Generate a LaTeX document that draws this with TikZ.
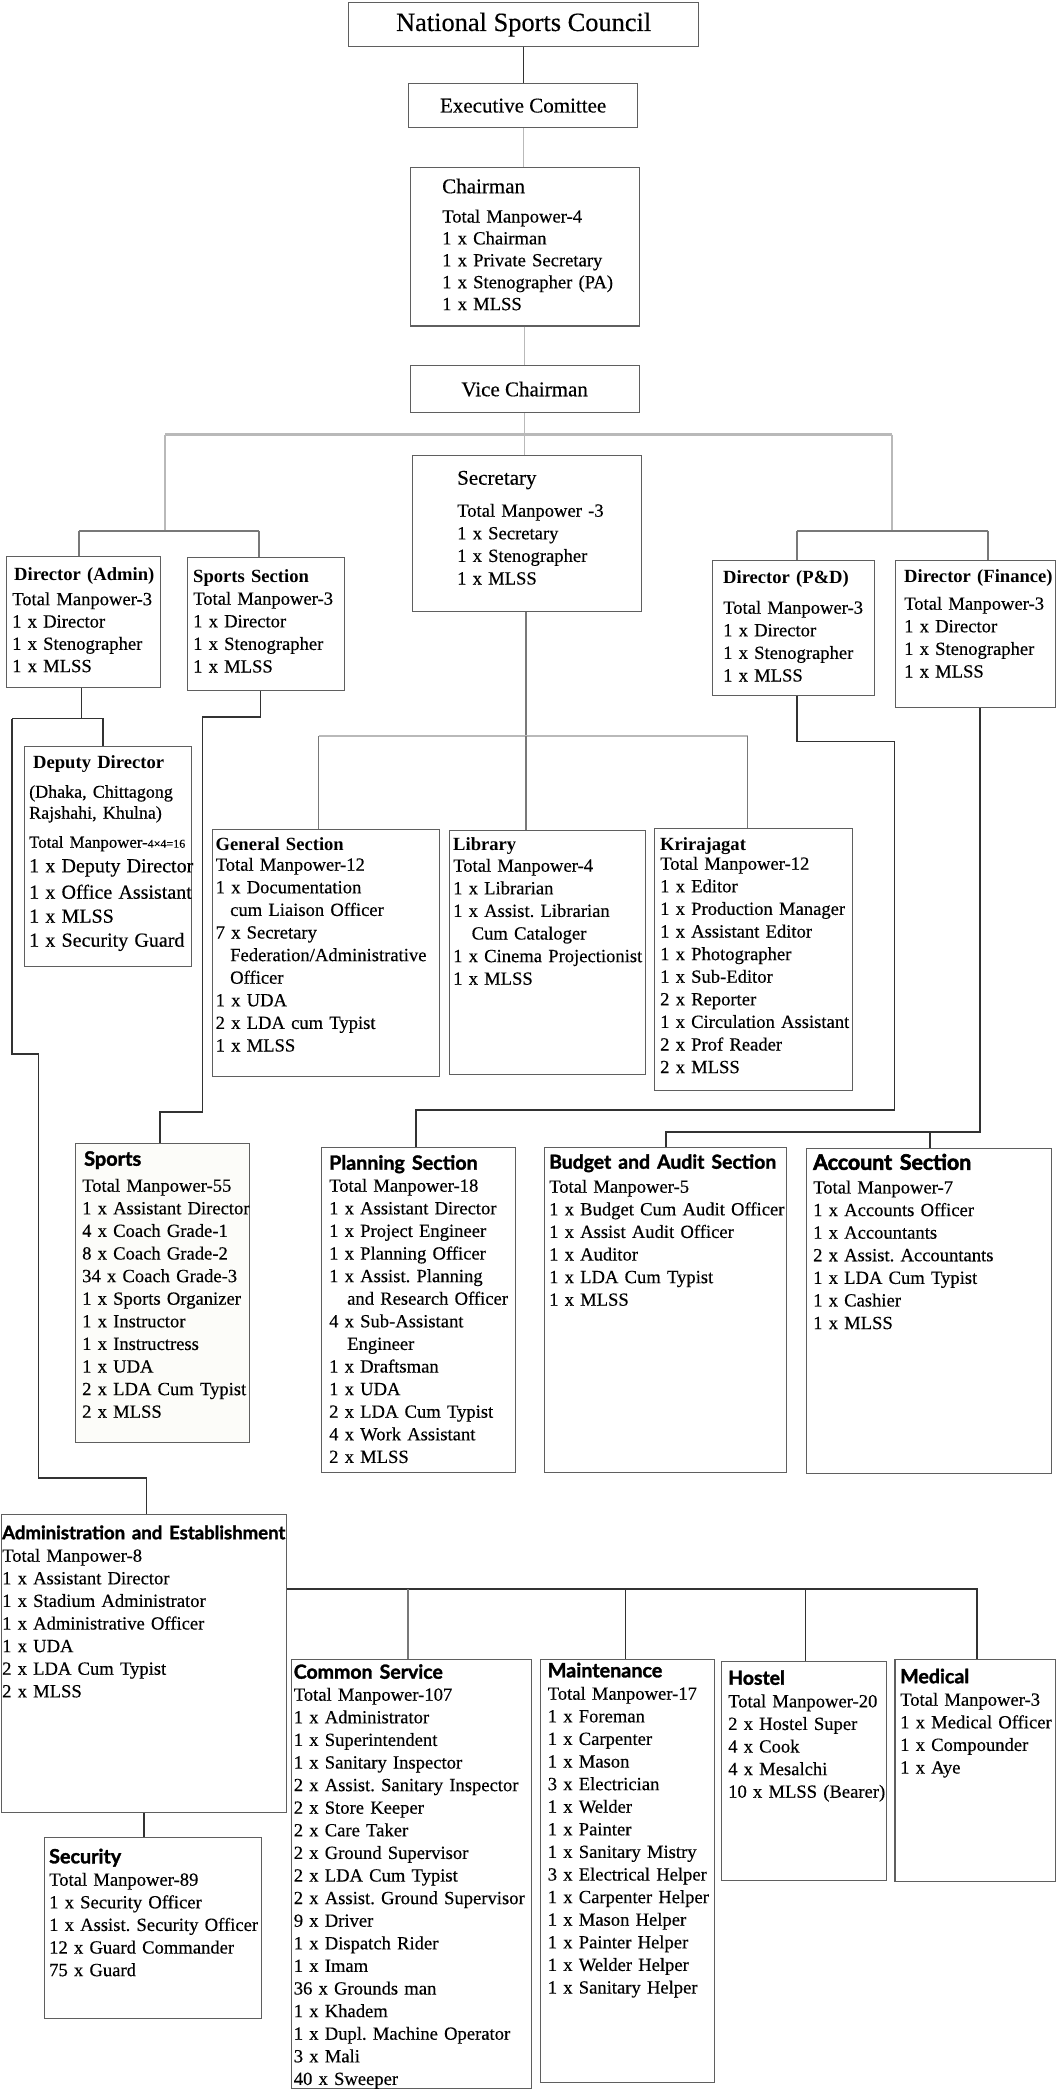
\documentclass[tikz,border=0pt]{standalone}
\usepackage{fontspec}
\usepackage{graphicx}
\setmainfont{Liberation Serif}[UprightFeatures={FakeBold=0.35}]
\newfontfamily\hsans{Lato}[BoldFeatures={FakeBold=1.6}]
\newfontfamily\hsansx{Lato}[BoldFeatures={FakeBold=2.8}]
\definecolor{bord}{RGB}{95,95,95}
\definecolor{cdk}{RGB}{50,50,50}
\definecolor{clt}{RGB}{185,185,185}
\definecolor{cmd}{RGB}{120,120,120}
\definecolor{cream}{RGB}{252,252,249}
\frenchspacing
\newcommand\bodyf{\fontsize{18.6}{22.6}\selectfont}
\newcommand\sh[2]{\resizebox{#1pt}{!}{\hsans\bfseries\fontsize{17}{20}\selectfont #2}}
\newcommand\shx[2]{\resizebox{#1pt}{!}{\hsansx\bfseries\fontsize{17}{20}\selectfont #2}}
\newcommand\bh[1]{{\bfseries #1}}
\newcommand\rh[1]{{\fontsize{21}{25}\selectfont #1}}
\newcommand\ind{\hspace*{14.5pt}}
\begin{document}
\begin{tikzpicture}[x=1pt,y=-1pt,
  box/.style={draw=bord, line width=1.3pt, anchor=north west, inner sep=0pt, fill=white},
  txt/.style={anchor=north west, inner sep=0pt, text width=320pt, align=left, font=\bodyf},
  cdark/.style={draw=cdk, line width=1.1pt},
  cmid/.style={draw=cmd, line width=1.1pt},
  clight/.style={draw=clt, line width=1.3pt},
  cthick/.style={draw=clt, line width=2.3pt}]
\useasboundingbox[fill=white] (0,0) rectangle (1056,2090);

% ---------- boxes ----------
\node[box, minimum width=350pt, minimum height=44pt] (nsc) at (348,2) {\fontsize{26.4}{30}\selectfont National Sports Council};
\node[box, minimum width=229pt, minimum height=44pt] (exec) at (408,83) {\fontsize{21}{25}\selectfont Executive Comittee};
\node[box, minimum width=229pt, minimum height=158.5pt] (chair) at (409.5,166.7) {};
\node[box, minimum width=229pt, minimum height=47pt] (vice) at (409.5,365) {\fontsize{21}{25}\selectfont Vice Chairman};
\node[box, minimum width=229pt, minimum height=156.2pt] (sec) at (412,454.5) {};
\node[box, minimum width=154pt, minimum height=131pt] (dadmin) at (6,556) {};
\node[box, minimum width=157pt, minimum height=133pt] (ssec) at (187,557) {};
\node[box, minimum width=162pt, minimum height=134.6pt] (pd) at (712,560) {};
\node[box, minimum width=160.2pt, minimum height=147pt] (fin) at (894.5,560) {};
\node[box, minimum width=167.4pt, minimum height=220pt] (dep) at (23.6,746) {};
\node[box, minimum width=226.5pt, minimum height=246.5pt] (gen) at (212,829) {};
\node[box, minimum width=196.4pt, minimum height=244pt] (lib) at (448.6,830) {};
\node[box, minimum width=198pt, minimum height=262pt] (kri) at (654,828) {};
\node[box, fill=cream, minimum width=174.2pt, minimum height=298.7pt] (sports) at (74.8,1143) {};
\node[box, minimum width=193.6pt, minimum height=325.3pt] (plan) at (321,1146.7) {};
\node[box, minimum width=242.5pt, minimum height=325.3pt] (bud) at (543.5,1146.7) {};
\node[box, minimum width=244.7pt, minimum height=325.3pt] (acc) at (806,1147.7) {};
\node[box, minimum width=284.9pt, minimum height=298pt] (admin) at (0.7,1514) {};
\node[box, minimum width=216.8pt, minimum height=181pt] (secu) at (43.8,1837) {};
\node[box, minimum width=239.7pt, minimum height=429pt] (com) at (291,1659) {};
\node[box, minimum width=174.5pt, minimum height=423pt] (maint) at (539.5,1659) {};
\node[box, minimum width=164.6pt, minimum height=218.5pt] (hostel) at (721,1661) {};
\node[box, minimum width=160.3pt, minimum height=222pt] (med) at (894.4,1659) {};

% ---------- texts ----------
\node[txt, font={\fontsize{18.6}{21.9}\selectfont}] (chair-t) at (442,177.7) {\strut\rh{Chairman}\\[7.4pt]Total Manpower-4\\1 x Chairman\\1 x Private Secretary\\1 x Stenographer (PA)\\1 x MLSS};
\node[txt] (sec-t) at (457,468.7) {\strut\rh{Secretary}\\[9.4pt]Total Manpower -3\\1 x Secretary\\1 x Stenographer\\1 x MLSS};
\node[txt, font={\fontsize{18.6}{22.3}\selectfont}] (dadmin-t) at (12,564.7) {\strut\hspace*{2pt}\bh{Director (Admin)}\\[2.4pt]Total Manpower-3\\1 x Director\\1 x Stenographer\\1 x MLSS};
\node[txt] (ssec-t) at (193,566.7) {\strut\bh{Sports Section}\\[-0.6pt]Total Manpower-3\\1 x Director\\1 x Stenographer\\1 x MLSS};
\node[txt] (pd-t) at (723,567.7) {\strut\bh{Director (P\&D)}\\[7.4pt]Total Manpower-3\\1 x Director\\1 x Stenographer\\1 x MLSS};
\node[txt] (fin-t) at (904,566.7) {\strut\bh{Director (Finance)}\\[4.4pt]Total Manpower-3\\1 x Director\\1 x Stenographer\\1 x MLSS};
\node[txt] (dep-t) at (29,752.7) {\strut\hspace*{4pt}\bh{Deputy Director}\\[6.4pt]{\fontsize{18}{22}\selectfont (Dhaka, Chittagong}\\[-1.6pt]{\fontsize{18}{22}\selectfont Rajshahi, Khulna)}\\[6.4pt]{\fontsize{16.8}{20}\selectfont Total Manpower-}{\fontsize{12}{14}\selectfont 4×4=16}\\[2pt]{\fontsize{20}{24}\selectfont 1 x Deputy Director}\\[3.8pt]{\fontsize{20}{24}\selectfont 1 x Office Assistant}\\[1.4pt]{\fontsize{20}{24}\selectfont 1 x MLSS}\\[1.4pt]{\fontsize{20}{24}\selectfont 1 x Security Guard}};
\node[txt] (gen-t) at (215.5,834.2) {\strut\bh{General Section}\\[-2.1pt]Total Manpower-12\\1 x Documentation\\\ind cum Liaison Officer\\7 x Secretary\\\ind Federation/Administrative\\\ind Officer\\1 x UDA\\2 x LDA cum Typist\\1 x MLSS};
\node[txt] (lib-t) at (453,834.7) {\strut\bh{Library}\\[-1.6pt]Total Manpower-4\\1 x Librarian\\1 x Assist. Librarian\\\hspace*{18.5pt}Cum Cataloger\\1 x Cinema Projectionist\\1 x MLSS};
\node[txt] (kri-t) at (660,834.2) {\strut\bh{Krirajagat}\\[-3.1pt]Total Manpower-12\\1 x Editor\\1 x Production Manager\\1 x Assistant Editor\\1 x Photographer\\1 x Sub-Editor\\2 x Reporter\\1 x Circulation Assistant\\2 x Prof Reader\\2 x MLSS};
\node[txt] (sports-t) at (82,1149.7) {\strut\hspace*{2pt}\sh{57}{Sports}\\[3.4pt]Total Manpower-55\\1 x Assistant Director\\4 x Coach Grade-1\\8 x Coach Grade-2\\34 x Coach Grade-3\\1 x Sports Organizer\\1 x Instructor\\1 x Instructress\\1 x UDA\\2 x LDA Cum Typist\\2 x MLSS};
\node[txt] (plan-t) at (329,1153.7) {\strut\sh{148.5}{Planning Section}\\[-0.6pt]Total Manpower-18\\1 x Assistant Director\\1 x Project Engineer\\1 x Planning Officer\\1 x Assist. Planning\\\hspace*{18pt}and Research Officer\\4 x Sub-Assistant\\\hspace*{18pt}Engineer\\1 x Draftsman\\1 x UDA\\2 x LDA Cum Typist\\4 x Work Assistant\\2 x MLSS};
\node[txt] (bud-t) at (549,1152.7) {\strut\sh{227}{Budget and Audit Section}\\[1.4pt]Total Manpower-5\\1 x Budget Cum Audit Officer\\1 x Assist Audit Officer\\1 x Auditor\\1 x LDA Cum Typist\\1 x MLSS};
\node[txt] (acc-t) at (813,1153.7) {\strut\shx{158}{Account Section}\\[1.1pt]Total Manpower-7\\1 x Accounts Officer\\1 x Accountants\\2 x Assist. Accountants\\1 x LDA Cum Typist\\1 x Cashier\\1 x MLSS};
\node[txt] (admin-t) at (2,1523.2) {\strut\sh{283}{Administration and Establishment}\\[-0.1pt]Total Manpower-8\\1 x Assistant Director\\1 x Stadium Administrator\\1 x Administrative Officer\\1 x UDA\\2 x LDA Cum Typist\\2 x MLSS};
\node[txt] (secu-t) at (49,1847.3) {\strut\sh{72}{Security}\\[-0.2pt]Total Manpower-89\\1 x Security Officer\\1 x Assist. Security Officer\\12 x Guard Commander\\75 x Guard};
\node[txt] (com-t) at (293.6,1662.7) {\strut\sh{149}{Common Service}\\[-0.6pt]Total Manpower-107\\1 x Administrator\\1 x Superintendent\\1 x Sanitary Inspector\\2 x Assist. Sanitary Inspector\\2 x Store Keeper\\2 x Care Taker\\2 x Ground Supervisor\\2 x LDA Cum Typist\\2 x Assist. Ground Supervisor\\9 x Driver\\1 x Dispatch Rider\\1 x Imam\\36 x Grounds man\\1 x Khadem\\1 x Dupl. Machine Operator\\3 x Mali\\40 x Sweeper};
\node[txt] (maint-t) at (547.6,1661.3) {\strut\sh{114.5}{Maintenance}\\[-0.2pt]Total Manpower-17\\1 x Foreman\\1 x Carpenter\\1 x Mason\\3 x Electrician\\1 x Welder\\1 x Painter\\1 x Sanitary Mistry\\3 x Electrical Helper\\1 x Carpenter Helper\\1 x Mason Helper\\1 x Painter Helper\\1 x Welder Helper\\1 x Sanitary Helper};
\node[txt] (hostel-t) at (728,1668.7) {\strut\sh{56.6}{Hostel}\\[0pt]Total Manpower-20\\2 x Hostel Super\\4 x Cook\\4 x Mesalchi\\10 x MLSS (Bearer)};
\node[txt] (med-t) at (900,1667.2) {\strut\sh{69}{Medical}\\[-0.1pt]Total Manpower-3\\1 x Medical Officer\\1 x Compounder\\1 x Aye};

% ---------- junction coordinates ----------
\coordinate (h1L) at (165,434.5);
\coordinate (h1R) at (892,434.5);
\coordinate (aL) at (79,531);  \coordinate (aM) at (165,531); \coordinate (aR) at (259,531);
\coordinate (bL) at (797,531); \coordinate (bM) at (892,531); \coordinate (bR) at (988,531);
\coordinate (cL) at (318.6,736); \coordinate (cM) at (526,736); \coordinate (cR) at (747.6,736);
\coordinate (dA) at (81.5,718.5); \coordinate (dL) at (12,718.5); \coordinate (dR) at (103,718.5);
\coordinate (dL2) at (12,1054); \coordinate (dL3) at (38.4,1054);
\coordinate (dL4) at (38.4,1478); \coordinate (dL5) at (146.8,1478);
\coordinate (sA) at (260.6,717); \coordinate (sB) at (202.7,717);
\coordinate (sC) at (202.7,1112); \coordinate (sD) at (160,1112);
\coordinate (p1) at (797,741.7); \coordinate (p2) at (894.4,741.7);
\coordinate (p3) at (894.4,1110); \coordinate (p4) at (416,1110);
\coordinate (f1) at (980,1132); \coordinate (f2) at (666,1132); \coordinate (f3) at (930,1132);
\coordinate (e2) at (977,1589); \coordinate (e3) at (408,1589);
\coordinate (e4) at (625.7,1589); \coordinate (e5) at (805.5,1589);
\coordinate (s1) at (144,1820);

% ---------- connectors ----------
\draw[cdark] (nsc.south) -- (nsc.south |- exec.north);
\draw[clight] (exec.south) -- (exec.south |- chair.north);
\draw[clight] (chair.south) -- (chair.south |- vice.north);
\draw[clight] (vice.south) -- (vice.south |- sec.north);
\draw[cthick] (h1L) -- (h1R);
\draw[clight] (h1L) -- (aM);
\draw[clight] (h1R) -- (bM);
\draw[cmid] (aL) -- (aR);
\draw[cmid] (aL) -- (aL |- dadmin.north);
\draw[cmid] (aR) -- (aR |- ssec.north);
\draw[cmid] (bL) -- (bR);
\draw[cmid] (bL) -- (bL |- pd.north);
\draw[cmid] (bR) -- (bR |- fin.north);
\draw[cmid] (sec.south -| cM) -- (cM);
\draw[cthick] (cL) -- (cR);
\draw[cmid] (cL) -- (cL |- gen.north);
\draw[cmid] (cM) -- (cM |- lib.north);
\draw[cmid] (cR) -- (cR |- kri.north);
\draw[cdark] (dadmin.south -| dA) -- (dA);
\draw[cdark] (dL) -- (dR) -- (dR |- dep.north);
\draw[cdark] (dL) -- (dL2) -- (dL3) -- (dL4) -- (dL5) -- (dL5 |- admin.north);
\draw[cdark] (ssec.south -| sA) -- (sA) -- (sB) -- (sC) -- (sD) -- (sD |- sports.north);
\draw[cdark] (pd.south -| p1) -- (p1) -- (p2) -- (p3) -- (p4) -- (p4 |- plan.north);
\draw[cdark] (fin.south -| f1) -- (f1) -- (f2) -- (f2 |- bud.north);
\draw[cdark] (f3) -- (f3 |- acc.north);
\draw[cdark] (admin.east |- e2) -- (e2) -- (e2 |- med.north);
\draw[cmid] (e3) -- (e3 |- com.north);
\draw[cdark] (e4) -- (e4 |- maint.north);
\draw[cdark] (e5) -- (e5 |- hostel.north);
\draw[cdark] (admin.south -| s1) -- (s1 |- secu.north);
\end{tikzpicture}
\end{document}
